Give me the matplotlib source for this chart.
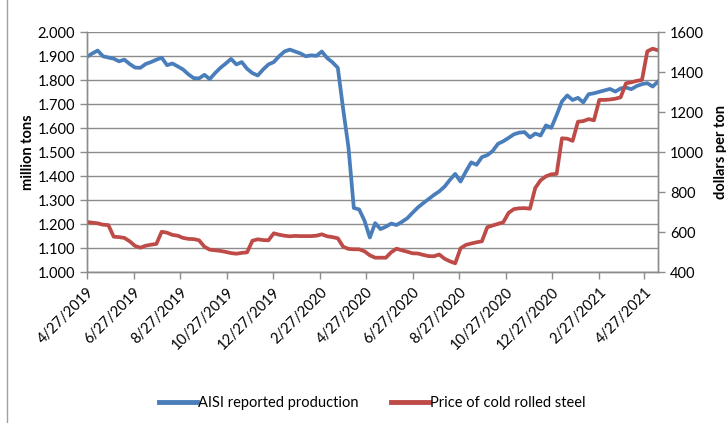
import numpy as np
import pandas as pd
import matplotlib
matplotlib.use("Agg")
import matplotlib.pyplot as plt
from matplotlib.lines import Line2D

plt.rcParams['font.family'] = ['Lato', 'DejaVu Sans']

# weekly observations starting 4/27/2019
fechas = pd.date_range('2019-04-27', periods=108, freq='7D')

# AISI reported production (million tons)
produccion = [
    1.898, 1.912, 1.924, 1.900, 1.895, 1.890, 1.879, 1.886, 1.868, 1.853,
    1.852, 1.868, 1.876, 1.886, 1.894, 1.863, 1.870, 1.858, 1.845, 1.825,
    1.809, 1.808, 1.823, 1.805, 1.830, 1.852, 1.870, 1.889, 1.866, 1.876,
    1.848, 1.830, 1.820, 1.845, 1.866, 1.876, 1.900, 1.920, 1.928, 1.920,
    1.912, 1.900, 1.904, 1.902, 1.920, 1.893, 1.875, 1.852, 1.680, 1.520,
    1.268, 1.262, 1.215, 1.145, 1.205, 1.180, 1.190, 1.203, 1.197, 1.210,
    1.225, 1.248, 1.270, 1.288, 1.305, 1.322, 1.337, 1.357, 1.385, 1.410,
    1.378, 1.420, 1.458, 1.448, 1.480, 1.488, 1.505, 1.535, 1.546, 1.560,
    1.575, 1.582, 1.584, 1.562, 1.578, 1.570, 1.612, 1.602, 1.655, 1.712,
    1.737, 1.718, 1.727, 1.708, 1.742, 1.746, 1.752, 1.758, 1.764, 1.753,
    1.766, 1.770, 1.763, 1.776, 1.784, 1.788, 1.774, 1.795,
]

# price of cold rolled steel (dollars per ton)
precio = [
    652, 648, 645, 638, 636, 578, 576, 572, 555, 532,
    523, 533, 538, 542, 603, 598, 587, 583, 572, 567,
    566, 560, 528, 513, 510, 507, 502, 496, 493, 497,
    500, 558, 565, 561, 560, 595, 588, 583, 580, 582,
    581, 581, 581, 583, 590, 580, 576, 570, 528, 517,
    515, 515, 505, 485, 473, 473, 473, 500, 518, 510,
    503, 495, 494, 487, 481, 480, 489, 468, 455, 445,
    520, 537, 544, 550, 555, 625, 634, 642, 650, 697,
    716, 720, 721, 718, 822, 860, 880, 890, 892, 1070,
    1068, 1057, 1153, 1156, 1166, 1160, 1262, 1262, 1264, 1268,
    1275, 1345, 1350, 1357, 1362, 1505, 1518, 1510,
]

etiquetas_x = ['4/27/2019', '6/27/2019', '8/27/2019', '10/27/2019', '12/27/2019',
               '2/27/2020', '4/27/2020', '6/27/2020', '8/27/2020', '10/27/2020',
               '12/27/2020', '2/27/2021', '4/27/2021']

azul = '#4a7ebb'
rojo = '#be4b48'
gris = '#8c8c8c'

fig = plt.figure(figsize=(7.26, 4.23), dpi=100)
ax = fig.add_axes([87 / 726, 1 - 272.3 / 423, 571 / 726, 240 / 423])
ax2 = ax.twinx()

ax.plot(fechas, produccion, color=azul, lw=2.7, solid_joinstyle='round')
ax2.plot(fechas, precio, color=rojo, lw=2.7, solid_joinstyle='round')

ax.set_xlim(fechas[0], fechas[-1])
ax.set_ylim(1.0, 2.0)
ax.set_yticks(np.arange(1.0, 2.01, 0.1))
ax.set_yticklabels([f'{v:.3f}' for v in np.arange(1.0, 2.01, 0.1)])
ax2.set_ylim(400, 1600)
ax2.set_yticks(np.arange(400, 1601, 200))

ticks_x = pd.to_datetime(etiquetas_x, format='%m/%d/%Y')
ax.set_xticks(ticks_x)
ax.set_xticklabels(etiquetas_x, rotation=45, ha='right', rotation_mode='anchor')

ax.grid(axis='y', color=gris, lw=1.0)
ax.set_axisbelow(True)
for a in (ax, ax2):
    a.spines['top'].set_visible(False)
    for s in ('left', 'right', 'bottom'):
        a.spines[s].set_color(gris)
        a.spines[s].set_linewidth(1.0)
ax.tick_params(axis='both', colors=gris, labelcolor='black', labelsize=10.5, length=5, width=1)
ax2.tick_params(axis='y', colors=gris, labelcolor='black', labelsize=10.5, length=5, width=1)
ax.tick_params(axis='x', pad=4)

ax.set_ylabel('million tons', fontsize=10.5, fontweight='bold', labelpad=2)
ax2.set_ylabel('dollars per ton', fontsize=10.5, fontweight='bold', labelpad=7)

manijas = [Line2D([0], [0], color=azul, lw=3.5), Line2D([0], [0], color=rojo, lw=3.5)]
fig.legend(manijas, ['AISI reported production', 'Price of cold rolled steel'],
           loc='center', bbox_to_anchor=(0.513, 0.047), ncol=2, frameon=False,
           fontsize=10.5, handlelength=2.6, handletextpad=0.1, columnspacing=2.2)

# chart area border on the left
fig.add_artist(Line2D([7 / 726, 7 / 726], [0, 1], color='#a0a0a0', lw=1))

fig.savefig('out.png', dpi=100)
